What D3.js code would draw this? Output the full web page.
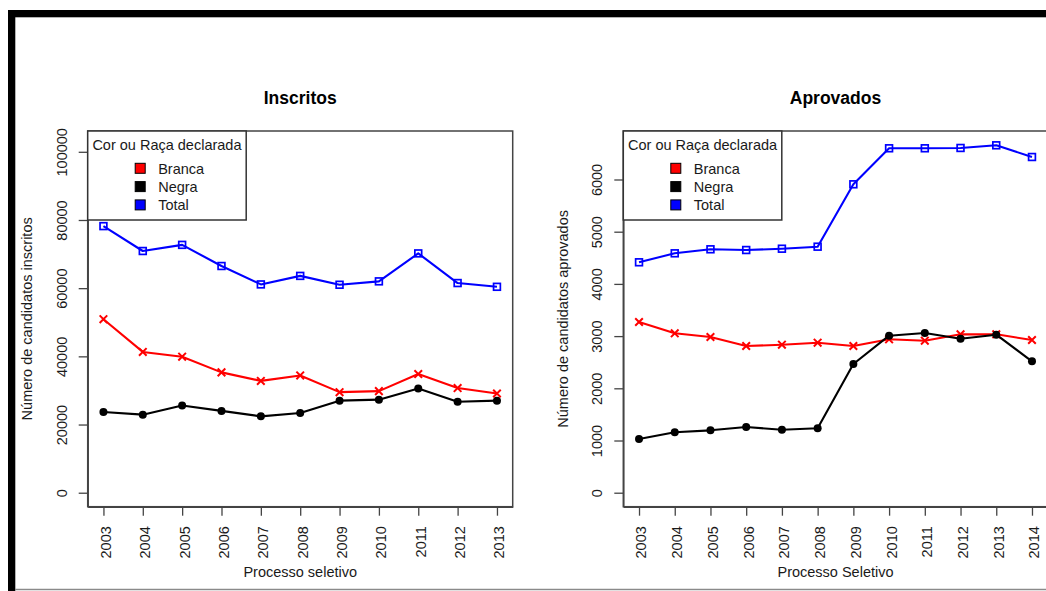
<!DOCTYPE html>
<html>
<head>
<meta charset="utf-8">
<script src="https://cdn.jsdelivr.net/npm/d3@7"></script>
<style>
  html, body { margin: 0; padding: 0; background: #fff; }
  svg { display: block; font-family: "Liberation Sans", Arial, sans-serif; }
</style>
</head>
<body>
<svg id="chart" width="1046" height="591"></svg>
<script>
// Candidates registered per selection process, by declared colour/race
const yearsInscritos = [2003, 2004, 2005, 2006, 2007, 2008, 2009, 2010, 2011, 2012, 2013];
const inscritosBranca = [50900, 41300, 39900, 35300, 32800, 34400, 29500, 29800, 34800, 30700, 29100];
const inscritosNegra  = [23700, 22900, 25600, 24000, 22400, 23400, 27000, 27300, 30600, 26700, 27000];
const inscritosTotal  = [78200, 70900, 72700, 66500, 61100, 63600, 61000, 62000, 70200, 61500, 60400];
const inscritosTicks  = [0, 20000, 40000, 60000, 80000, 100000];

// Candidates approved per selection process, by declared colour/race
const yearsAprovados = [2003, 2004, 2005, 2006, 2007, 2008, 2009, 2010, 2011, 2012, 2013, 2014];
const aprovadosBranca = [3270, 3054, 2983, 2810, 2835, 2874, 2810, 2939, 2912, 3034, 3034, 2925];
const aprovadosNegra  = [1029, 1157, 1195, 1259, 1207, 1234, 2466, 3008, 3059, 2950, 3027, 2517];
const aprovadosTotal  = [4414, 4586, 4663, 4649, 4674, 4713, 5908, 6598, 6598, 6604, 6655, 6431];
const aprovadosTicks  = [0, 1000, 2000, 3000, 4000, 5000, 6000];

const legendTitle = "Cor ou Raça declarada";
const seriesNames = ["Branca", "Negra", "Total"];
const seriesColors = ["#ff0000", "#000000", "#0000ff"];

const svg = d3.select("#chart");
const textColor = "#1a1a1a";

// outer frame
svg.append("rect").attr("x", 8).attr("y", 10).attr("width", 1038).attr("height", 7.3).attr("fill", "#000");
svg.append("rect").attr("x", 8).attr("y", 10).attr("width", 7.3).attr("height", 581).attr("fill", "#000");
svg.append("line").attr("x1", 15).attr("x2", 1046).attr("y1", 589.5).attr("y2", 589.5)
  .attr("stroke", "#8a8a8a").attr("stroke-width", 1.5);

function panel(opts) {
  const { left, right, top, bottom, years, yDomain, yTicks, series, title, xLabel, yLabel } = opts;
  const pad = (years[years.length - 1] - years[0]) * 0.04;
  const x = d3.scaleLinear().domain([years[0] - pad, years[years.length - 1] + pad]).range([left, right]);
  const y = d3.scaleLinear().domain(yDomain).range([bottom, top]);
  const g = svg.append("g");

  // y axis
  const yAxis = g.append("g").attr("transform", `translate(${left},0)`)
    .call(d3.axisLeft(y).tickValues(yTicks).tickSize(9).tickSizeOuter(0).tickFormat(d3.format("d")));
  yAxis.select(".domain").attr("stroke", "#444").attr("stroke-width", 1.5);
  yAxis.selectAll(".tick line").attr("stroke", "#444").attr("stroke-width", 1.3);
  yAxis.selectAll(".tick text")
    .attr("x", null).attr("dy", "0.35em")
    .attr("transform", "translate(-26,0) rotate(-90)")
    .attr("text-anchor", "middle")
    .attr("fill", textColor).style("font-size", "14.5px").style("font-family", "Liberation Sans, Arial, sans-serif");

  // x axis
  const xAxis = g.append("g").attr("transform", `translate(0,${bottom})`)
    .call(d3.axisBottom(x).tickValues(years).tickSize(9).tickSizeOuter(0).tickFormat(d3.format("d")));
  xAxis.select(".domain").attr("stroke", "#444").attr("stroke-width", 1.5);
  xAxis.selectAll(".tick line").attr("stroke", "#444").attr("stroke-width", 1.3);
  xAxis.selectAll(".tick text")
    .attr("y", null).attr("dy", "0.48em")
    .attr("transform", "translate(0,19.5) rotate(-90)")
    .attr("text-anchor", "end")
    .attr("fill", textColor).style("font-size", "14.5px").style("font-family", "Liberation Sans, Arial, sans-serif");

  // plot box
  g.append("rect").attr("x", left).attr("y", top).attr("width", right - left).attr("height", bottom - top)
    .attr("fill", "none").attr("stroke", "#444").attr("stroke-width", 1.5);

  // series lines and markers
  const line = d3.line().x((d, i) => x(years[i])).y(d => y(d));
  series.forEach((s, k) => {
    g.append("path").datum(s.values).attr("d", line)
      .attr("fill", "none").attr("stroke", s.color).attr("stroke-width", 2.1).attr("stroke-linejoin", "round");
    const pts = g.append("g");
    s.values.forEach((v, i) => {
      const cx = x(years[i]), cy = y(v);
      if (s.shape === "cross") {
        const r = 3.8;
        pts.append("path").attr("d", `M${cx - r},${cy - r}L${cx + r},${cy + r}M${cx - r},${cy + r}L${cx + r},${cy - r}`)
          .attr("stroke", s.color).attr("stroke-width", 2);
      } else if (s.shape === "circle") {
        pts.append("circle").attr("cx", cx).attr("cy", cy).attr("r", 4).attr("fill", s.color);
      } else {
        const h = 3.4;
        pts.append("rect").attr("x", cx - h).attr("y", cy - h).attr("width", 2 * h).attr("height", 2 * h)
          .attr("fill", "none").attr("stroke", s.color).attr("stroke-width", 1.7);
      }
    });
  });

  // legend
  const lg = g.append("g");
  const lw = 158.5, lh = 89;
  lg.append("rect").attr("x", left).attr("y", top).attr("width", lw).attr("height", lh)
    .attr("fill", "#fff").attr("stroke", "#333").attr("stroke-width", 1.5);
  lg.append("text").attr("x", left + lw / 2).attr("y", top + 19).attr("text-anchor", "middle")
    .attr("fill", textColor).style("font-size", "14.5px").text(legendTitle);
  seriesNames.forEach((name, i) => {
    const cy = top + 37.3 + i * 18.3;
    lg.append("rect").attr("x", left + 47.5).attr("y", cy - 5).attr("width", 10).attr("height", 10)
      .attr("fill", seriesColors[i]).attr("stroke", "#000").attr("stroke-width", 1);
    lg.append("text").attr("x", left + 70.5).attr("y", cy + 5.2)
      .attr("fill", textColor).style("font-size", "14.5px").text(name);
  });

  // titles
  const cx = (left + right) / 2;
  g.append("text").attr("x", cx).attr("y", 103.5).attr("text-anchor", "middle")
    .attr("fill", "#000").style("font-size", "17.5px").style("font-weight", "bold").text(title);
  g.append("text").attr("x", cx).attr("y", 576.5).attr("text-anchor", "middle")
    .attr("fill", textColor).style("font-size", "14.5px").text(xLabel);
  g.append("text").attr("transform", `translate(${left - 60.5},${(top + bottom) / 2}) rotate(-90)`)
    .attr("text-anchor", "middle").attr("dy", "0.35em")
    .attr("fill", textColor).style("font-size", "14.5px").text(yLabel);
}

panel({
  left: 87.7, right: 512.7, top: 131, bottom: 506.7,
  years: yearsInscritos, yDomain: [-4100, 106100], yTicks: inscritosTicks,
  series: [
    { values: inscritosBranca, color: seriesColors[0], shape: "cross" },
    { values: inscritosNegra, color: seriesColors[1], shape: "circle" },
    { values: inscritosTotal, color: seriesColors[2], shape: "square" }
  ],
  title: "Inscritos", xLabel: "Processo seletivo", yLabel: "Número de candidatos inscritos"
});

panel({
  left: 623.3, right: 1047.7, top: 131, bottom: 506.7,
  years: yearsAprovados, yDomain: [-268, 6929], yTicks: aprovadosTicks,
  series: [
    { values: aprovadosBranca, color: seriesColors[0], shape: "cross" },
    { values: aprovadosNegra, color: seriesColors[1], shape: "circle" },
    { values: aprovadosTotal, color: seriesColors[2], shape: "square" }
  ],
  title: "Aprovados", xLabel: "Processo Seletivo", yLabel: "Número de candidatos aprovados"
});
</script>
</body>
</html>
